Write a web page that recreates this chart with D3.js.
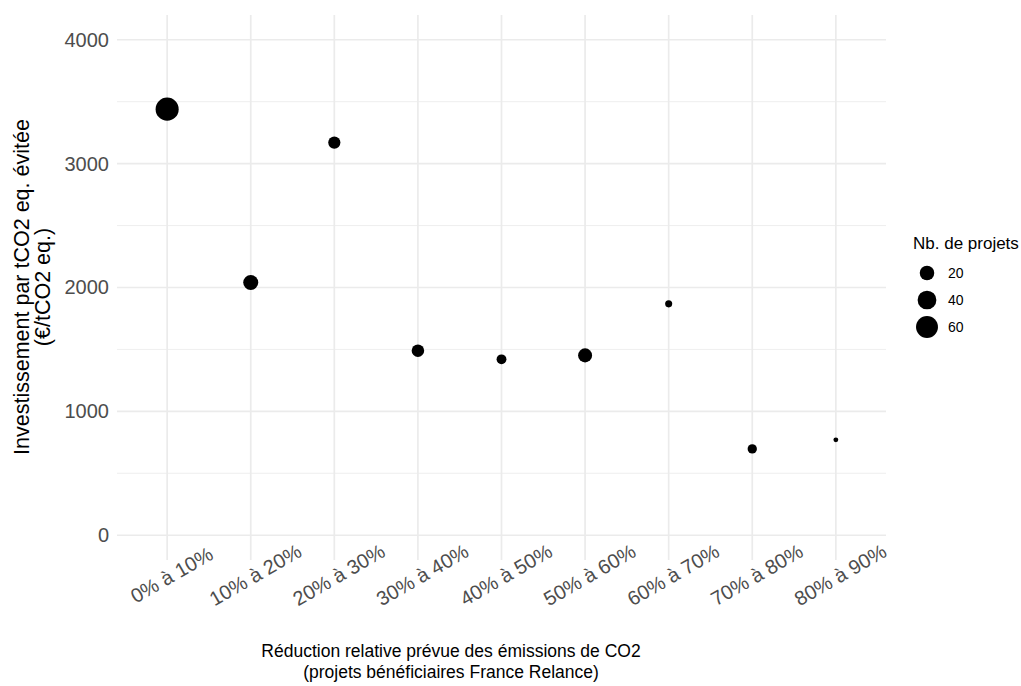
<!DOCTYPE html>
<html>
<head>
<meta charset="utf-8">
<script src="https://cdn.jsdelivr.net/npm/d3@7"></script>
<style>
  html, body { margin: 0; padding: 0; background: #ffffff; }
  svg { display: block; font-family: "Liberation Sans", Arial, Helvetica, sans-serif; }
</style>
</head>
<body>
<svg id="chart" width="1021" height="686"></svg>
<script>
// ---- data ----
const categories = ["0% à 10%", "10% à 20%", "20% à 30%", "30% à 40%", "40% à 50%",
                    "50% à 60%", "60% à 70%", "70% à 80%", "80% à 90%"];
const investPerTonne = [3440, 2040, 3170, 1490, 1420, 1452, 1868, 697, 770];
const nbProjets = [68, 22, 12, 13, 6, 18, 2, 5, 1];
const yTicks = [0, 1000, 2000, 3000, 4000];
const yMinorTicks = [500, 1500, 2500, 3500];
const legendBreaks = [20, 40, 60];

const xTitleLines = ["Réduction relative prévue des émissions de CO2", "(projets bénéficiaires France Relance)"];
const yTitleLines = ["Investissement par tCO2 eq. évitée", "(€/tCO2 eq.)"];
const legendTitle = "Nb. de projets";

// ---- layout ----
const svg = d3.select("#chart");
const panel = { left: 117, right: 886, top: 15, bottom: 560 };

const x = d3.scalePoint().domain(categories).range([panel.left, panel.right]).padding(0.6);
const y = d3.scaleLinear().domain([-200, 4200]).range([panel.bottom, panel.top]);

const minN = d3.min(nbProjets), maxN = d3.max(nbProjets);
const sizeScale = d3.scaleSqrt().domain([0, maxN - minN]).range([1, 6]);
const radius = n => 1.28 * (sizeScale(n - minN) * 2.845 + 0.945) / 2;

const grid = "#EBEBEB";
const g = svg.append("g");

// minor grid
g.selectAll(".ymin").data(yMinorTicks).enter().append("line")
  .attr("x1", panel.left).attr("x2", panel.right)
  .attr("y1", d => y(d)).attr("y2", d => y(d))
  .attr("stroke", grid).attr("stroke-width", 0.85);

// major grid
g.selectAll(".ymaj").data(yTicks).enter().append("line")
  .attr("x1", panel.left).attr("x2", panel.right)
  .attr("y1", d => y(d)).attr("y2", d => y(d))
  .attr("stroke", grid).attr("stroke-width", 1.7);
g.selectAll(".xmaj").data(categories).enter().append("line")
  .attr("x1", d => x(d)).attr("x2", d => x(d))
  .attr("y1", panel.top).attr("y2", panel.bottom)
  .attr("stroke", grid).attr("stroke-width", 1.7);

// y axis (labels only)
const yAxis = d3.axisLeft(y).tickValues(yTicks).tickSize(0).tickPadding(8).tickFormat(d3.format("d"));
const yg = svg.append("g").attr("transform", `translate(${panel.left},0)`).call(yAxis);
yg.select(".domain").remove();
yg.selectAll("text").attr("fill", "#4D4D4D").style("font-size", "20px")
  .style("font-family", "'Liberation Sans', Arial, sans-serif");

// x axis (labels only, rotated)
const xAxis = d3.axisBottom(x).tickSize(0).tickPadding(0);
const xg = svg.append("g").attr("transform", `translate(0,${panel.bottom + 8})`).call(xAxis);
xg.select(".domain").remove();
xg.selectAll("text")
  .attr("fill", "#4D4D4D").style("font-size", "20px")
  .style("font-family", "'Liberation Sans', Arial, sans-serif")
  .attr("y", 0).attr("dy", "0.75em")
  .attr("text-anchor", "middle")
  .attr("transform", "rotate(-30)");

// points
svg.append("g").selectAll("circle").data(categories).enter().append("circle")
  .attr("cx", d => x(d))
  .attr("cy", (d, i) => y(investPerTonne[i]))
  .attr("r", (d, i) => radius(nbProjets[i]))
  .attr("fill", "#000000");

// x title
const xt = svg.append("text").attr("text-anchor", "middle").style("font-size", "17.5px").attr("fill", "#000");
xTitleLines.forEach((t, i) => {
  xt.append("tspan").attr("x", 451).attr("y", 657 + i * 21).text(t);
});

// y title
const yt = svg.append("text").attr("text-anchor", "middle").style("font-size", "21.5px").attr("fill", "#000")
  .attr("transform", `translate(0,287) rotate(-90)`);
yTitleLines.forEach((t, i) => {
  yt.append("tspan").attr("x", 0).attr("y", 29 + i * 21).text(t);
});

// legend
const lg = svg.append("g");
lg.append("text").attr("x", 913).attr("y", 249).style("font-size", "17px").attr("fill", "#000").text(legendTitle);
const keyY = d3.scalePoint().domain(legendBreaks).range([273, 327]);
legendBreaks.forEach(b => {
  lg.append("circle").attr("cx", 927).attr("cy", keyY(b)).attr("r", radius(b)).attr("fill", "#000");
  lg.append("text").attr("x", 948).attr("y", keyY(b)).attr("dy", "0.36em")
    .style("font-size", "14px").attr("fill", "#000").text(b);
});
</script>
</body>
</html>
